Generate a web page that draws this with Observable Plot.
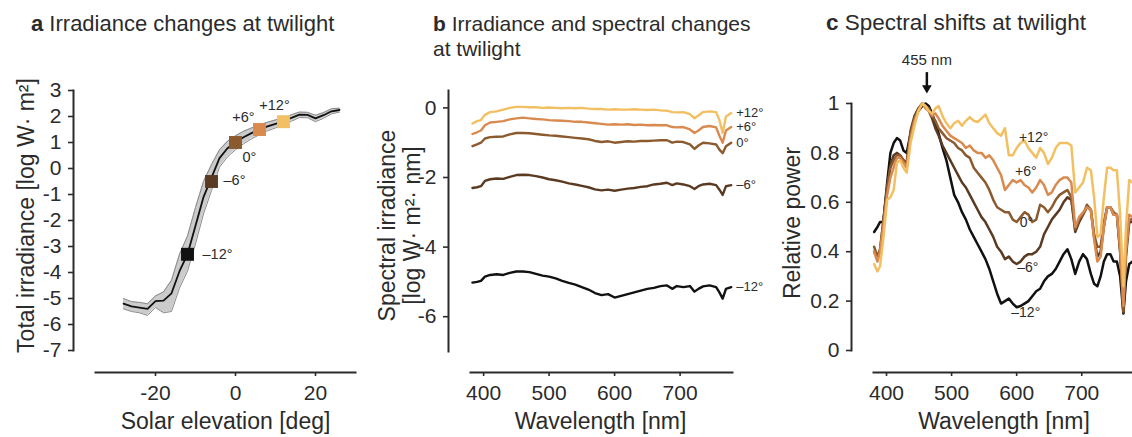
<!DOCTYPE html>
<html><head><meta charset="utf-8">
<script src="https://cdn.jsdelivr.net/npm/d3@7"></script>
<script src="https://cdn.jsdelivr.net/npm/@observablehq/plot@0.6"></script>
<style>
body{margin:0;background:#fff;}
#wrap{position:relative;width:1132px;height:437px;overflow:hidden;font-family:"Liberation Sans",Arial,Helvetica,sans-serif;color:#2b2b2b;}
#wrap svg{position:absolute;left:0;top:0;}
.title{position:absolute;font-size:22px;line-height:25px;white-space:nowrap;}
</style></head><body>
<div id="wrap">
<div class="title" style="left:31px;top:11px"><b>a</b> Irradiance changes at twilight</div>
<div class="title" style="left:433px;top:11px;font-size:21px"><b>b</b> Irradiance and spectral changes<br>at twilight</div>
<div class="title" style="left:826px;top:10px;font-size:22.5px"><b>c</b> Spectral shifts at twilight</div>
</div>
<script>
// ---------- shared series ----------
const seriesLabels = ["+12°", "+6°", "0°", "\u20136°", "\u201312°"];
const seriesColors = ["#f2c063", "#d98a4f", "#8b5a2e", "#5b3a22", "#111111"];

// ---------- panel a ----------
const elevation = [-28,-26,-24,-22,-20,-18,-16,-14,-12,-10,-8,-6,-4,-2,0,2,4,6,8,10,12,14,16,18,20,22,24,26];
const irrMean  = [-5.2,-5.3,-5.35,-5.4,-5.1,-5.08,-4.8,-3.95,-3.3,-2.2,-1.1,-0.35,0.4,0.78,1.0,1.2,1.36,1.5,1.62,1.72,1.8,1.95,2.07,2.06,1.93,2.05,2.2,2.25];
const irrUpper = [-5.0,-5.12,-5.15,-5.2,-4.9,-4.75,-4.3,-3.3,-2.6,-1.5,-0.5,0.15,0.72,1.05,1.26,1.43,1.56,1.68,1.78,1.87,1.93,2.07,2.17,2.16,2.05,2.15,2.3,2.32];
const irrLower = [-5.4,-5.5,-5.55,-5.65,-5.35,-5.55,-5.5,-4.6,-3.95,-2.9,-1.75,-0.85,0.05,0.45,0.72,0.95,1.14,1.3,1.45,1.56,1.66,1.82,1.96,1.95,1.8,1.93,2.1,2.17];
const markerElev  = [-12, -6, 0, 6, 12];
const markerIrr   = [-3.3, -0.5, 1.0, 1.5, 1.8];
const markerLabel = ["\u201312°", "\u20136°", "0°", "+6°", "+12°"];
const aTicksY = [3,2,1,0,-1,-2,-3,-4,-5,-6,-7];
const aTicksX = [-20, 0, 20];

// ---------- panel b ----------
const wlB = [383,390,396,402,410,420,430,440,450,460,470,480,490,500,510,520,530,540,550,560,570,580,590,600,610,620,630,640,650,660,670,680,688,695,705,715,722,728,735,745,755,760,765,770,778];
const bPlus12 = [-0.45,-0.38,-0.35,-0.2,-0.12,-0.1,-0.05,0.0,0.03,0.03,0.02,0.02,0.0,0.01,0.0,-0.01,0.0,-0.01,0.0,-0.02,-0.03,-0.03,-0.05,-0.04,-0.05,-0.05,-0.04,-0.05,-0.06,-0.05,-0.07,-0.08,-0.12,-0.13,-0.12,-0.18,-0.3,-0.22,-0.12,-0.1,-0.12,-0.35,-0.72,-0.25,-0.15];
const bPlus6  = [-0.75,-0.7,-0.65,-0.5,-0.42,-0.4,-0.38,-0.33,-0.3,-0.28,-0.3,-0.32,-0.33,-0.35,-0.36,-0.37,-0.38,-0.4,-0.4,-0.42,-0.44,-0.46,-0.48,-0.47,-0.48,-0.47,-0.49,-0.48,-0.5,-0.49,-0.5,-0.5,-0.55,-0.56,-0.55,-0.62,-0.72,-0.65,-0.55,-0.52,-0.56,-0.8,-1.0,-0.65,-0.55];
const bZero   = [-1.1,-1.05,-1.0,-0.88,-0.84,-0.83,-0.82,-0.76,-0.72,-0.72,-0.73,-0.75,-0.77,-0.79,-0.8,-0.82,-0.84,-0.86,-0.88,-0.9,-0.95,-0.98,-0.96,-1.0,-0.98,-0.96,-0.97,-0.95,-0.95,-0.94,-0.93,-0.93,-1.0,-0.97,-0.98,-1.05,-1.18,-1.08,-1.0,-1.02,-1.05,-1.2,-1.3,-1.1,-1.0];
const bMinus6 = [-2.3,-2.28,-2.25,-2.1,-2.05,-2.03,-2.04,-1.98,-1.93,-1.92,-1.93,-1.96,-2.0,-2.05,-2.08,-2.12,-2.17,-2.2,-2.24,-2.28,-2.34,-2.37,-2.35,-2.38,-2.35,-2.32,-2.3,-2.27,-2.25,-2.2,-2.18,-2.15,-2.22,-2.17,-2.2,-2.25,-2.33,-2.25,-2.2,-2.18,-2.22,-2.35,-2.5,-2.25,-2.22];
const bMinus12= [-5.02,-5.0,-4.97,-4.85,-4.8,-4.78,-4.8,-4.74,-4.7,-4.7,-4.72,-4.77,-4.82,-4.85,-4.9,-4.97,-5.03,-5.08,-5.15,-5.22,-5.32,-5.38,-5.35,-5.45,-5.4,-5.35,-5.3,-5.25,-5.2,-5.17,-5.12,-5.1,-5.2,-5.12,-5.15,-5.12,-5.28,-5.2,-5.13,-5.1,-5.15,-5.3,-5.48,-5.2,-5.15];
const bTicksY = [0, -2, -4, -6];
const bTicksX = [400, 500, 600, 700];

// ---------- panel c ----------
const wlC = [381,386,390,395,401,406,411,416,421,426,431,437,443,449,455,460,465,470,475,480,486,492,498,504,510,516,522,528,534,540,546,552,558,564,570,576,582,588,594,600,606,612,618,624,630,636,642,648,654,660,666,672,678,684,690,696,702,708,714,719,724,729,734,739,744,749,754,759,764,768,773,778];
const cPlus12 = [0.35,0.32,0.34,0.45,0.61,0.62,0.65,0.76,0.77,0.74,0.72,0.84,0.91,0.97,1.0,0.99,0.97,0.96,0.98,0.99,0.95,0.92,0.90,0.92,0.93,0.91,0.93,0.945,0.93,0.925,0.94,0.955,0.92,0.90,0.88,0.87,0.90,0.79,0.79,0.82,0.84,0.85,0.82,0.80,0.78,0.82,0.80,0.755,0.78,0.82,0.84,0.84,0.84,0.83,0.64,0.66,0.68,0.74,0.73,0.62,0.46,0.47,0.62,0.74,0.74,0.73,0.73,0.55,0.26,0.50,0.69,0.68];
const cPlus6  = [0.40,0.36,0.40,0.50,0.63,0.70,0.74,0.78,0.78,0.76,0.74,0.86,0.93,0.97,1.0,0.98,0.97,0.95,0.96,0.94,0.91,0.89,0.87,0.86,0.85,0.84,0.82,0.83,0.81,0.80,0.80,0.78,0.79,0.77,0.74,0.71,0.65,0.67,0.69,0.68,0.69,0.67,0.66,0.64,0.66,0.69,0.67,0.63,0.64,0.67,0.69,0.70,0.70,0.68,0.50,0.54,0.56,0.58,0.57,0.45,0.36,0.38,0.50,0.58,0.58,0.55,0.55,0.42,0.18,0.40,0.55,0.54];
const cZero   = [0.42,0.38,0.41,0.52,0.66,0.74,0.77,0.79,0.79,0.77,0.76,0.88,0.94,0.98,1.0,0.99,0.98,0.95,0.93,0.90,0.88,0.86,0.85,0.84,0.82,0.81,0.79,0.78,0.74,0.72,0.70,0.68,0.65,0.61,0.58,0.57,0.56,0.56,0.53,0.52,0.54,0.56,0.55,0.52,0.53,0.59,0.58,0.56,0.58,0.61,0.63,0.64,0.65,0.62,0.49,0.53,0.55,0.59,0.57,0.47,0.42,0.42,0.52,0.58,0.58,0.56,0.55,0.40,0.16,0.40,0.53,0.53];
const cMinus6 = [0.40,0.37,0.40,0.52,0.66,0.75,0.79,0.80,0.79,0.77,0.76,0.89,0.95,0.98,1.0,0.99,0.97,0.94,0.90,0.87,0.83,0.80,0.77,0.74,0.71,0.68,0.66,0.63,0.60,0.57,0.54,0.52,0.49,0.46,0.42,0.40,0.37,0.38,0.36,0.35,0.36,0.38,0.39,0.39,0.40,0.42,0.47,0.50,0.53,0.55,0.57,0.60,0.62,0.61,0.48,0.52,0.55,0.58,0.57,0.46,0.38,0.40,0.50,0.58,0.58,0.55,0.55,0.40,0.15,0.38,0.52,0.52];
const cMinus12= [0.48,0.50,0.52,0.52,0.68,0.80,0.84,0.86,0.85,0.81,0.80,0.88,0.93,0.97,0.99,1.0,0.99,0.96,0.92,0.88,0.82,0.77,0.70,0.63,0.60,0.56,0.53,0.49,0.46,0.43,0.40,0.37,0.33,0.28,0.23,0.19,0.20,0.21,0.19,0.175,0.18,0.19,0.20,0.22,0.24,0.25,0.28,0.30,0.31,0.33,0.36,0.39,0.41,0.37,0.31,0.36,0.39,0.37,0.31,0.27,0.26,0.30,0.36,0.39,0.39,0.36,0.36,0.30,0.15,0.28,0.35,0.36];
const cLabelWl  = [626, 614, 615, 617, 614];
const cLabelVal = [0.862, 0.725, 0.518, 0.334, 0.152];
const peakLabel = "455 nm";
const peakArrowWl = 462;
const cTicksY = [0, 0.2, 0.4, 0.6, 0.8, 1];
const cTicksX = [400, 500, 600, 700];

// ---------- build ----------
const W = 1132, H = 437;
const ink = "#2b2b2b";
const font = "'Liberation Sans', Arial, Helvetica, sans-serif";
const baseStyle = {background: "transparent", fontFamily: font, fontSize: "21px", color: ink, overflow: "visible"};
const color = {domain: seriesLabels, range: seriesColors};
const fmt = d => String(d);
const wrap = document.getElementById("wrap");
const xTitle = (t, dx) => Plot.text([t], {frameAnchor: "bottom", textAnchor: "middle", lineAnchor: "middle", dx, dy: 49, fontSize: 23});
const yTitle = (t, dx, dy) => Plot.text([t], {frameAnchor: "left", textAnchor: "middle", lineAnchor: "middle", rotate: -90, dx, dy, lineHeight: 1.1, fontSize: 23});

// panel a
const aBand = elevation.map((e, i) => ({e, m: irrMean[i], lo: irrLower[i], hi: irrUpper[i]}));
const aMarkers = markerElev.map((e, i) => ({e, v: markerIrr[i], k: markerLabel[i]}));
const aLabelOpts = {
  "\u201312°": {dx: 15, dy: 0, textAnchor: "start"},
  "\u20136°": {dx: 12, dy: -1, textAnchor: "start"},
  "0°": {dx: 7, dy: 15, textAnchor: "start"},
  "+6°": {dx: -16, dy: -12, textAnchor: "middle"},
  "+12°": {dx: -9, dy: -16, textAnchor: "middle"}
};
const plotA = Plot.plot({
  width: W, height: H,
  marginLeft: 73, marginTop: 90, marginBottom: 65, marginRight: W - 355,
  x: {domain: [-35, 30], insetLeft: 22},
  y: {domain: [-7, 3], insetBottom: 22},
  color,
  style: baseStyle,
  marks: [
    Plot.frame({anchor: "left", insetBottom: 22, stroke: ink, strokeWidth: 2}),
    Plot.frame({anchor: "bottom", insetLeft: 22, stroke: ink, strokeWidth: 2}),
    Plot.axisY(aTicksY, {tickSize: 5, tickPadding: 7, tickFormat: fmt, label: null, strokeWidth: 1.6}),
    Plot.axisX(aTicksX, {tickSize: 4, tickPadding: 9, tickFormat: fmt, label: null, strokeWidth: 1.6}),
    Plot.areaY(aBand, {x: "e", y1: "lo", y2: "hi", fill: "#cbcbcb"}),
    Plot.lineY(aBand, {x: "e", y: "hi", stroke: "#8a8a8a", strokeWidth: 1}),
    Plot.lineY(aBand, {x: "e", y: "lo", stroke: "#8a8a8a", strokeWidth: 1}),
    Plot.lineY(aBand, {x: "e", y: "m", stroke: "#111", strokeWidth: 1.8}),
    Plot.dot(aMarkers, {x: "e", y: "v", symbol: "square", r: 7.3, fill: "k"}),
    ...aMarkers.map(d => Plot.text([d], {x: "e", y: "v", text: "k", fontSize: 14.5, ...aLabelOpts[d.k]})),
    xTitle("Solar elevation [deg]", 11),
    yTitle("Total irradiance [log W\u00b7 m\u00b2]", -48, -16)
  ]
});

// panel b
const bSeries = [bPlus12, bPlus6, bZero, bMinus6, bMinus12];
const bRows = seriesLabels.flatMap((k, s) => wlB.map((w, i) => ({k, w, v: bSeries[s][i]})));
const plotB = Plot.plot({
  width: W, height: H,
  marginLeft: 448, marginTop: 90, marginBottom: 65, marginRight: W - 732,
  x: {domain: [380, 780], insetLeft: 22},
  y: {domain: [-7, 0.5], insetBottom: 21},
  color,
  style: baseStyle,
  marks: [
    Plot.frame({anchor: "left", insetBottom: 21, stroke: ink, strokeWidth: 2}),
    Plot.frame({anchor: "bottom", insetLeft: 22, stroke: ink, strokeWidth: 2}),
    Plot.axisY(bTicksY, {tickSize: 5, tickPadding: 7, tickFormat: fmt, label: null, strokeWidth: 1.6}),
    Plot.axisX(bTicksX, {tickSize: 4, tickPadding: 9, tickFormat: fmt, label: null, strokeWidth: 1.6}),
    Plot.lineY(bRows, {x: "w", y: "v", z: "k", stroke: "k", strokeWidth: 2.4}),
    Plot.text(bRows, Plot.selectLast({x: "w", y: "v", z: "k", text: "k", dx: 5, textAnchor: "start", fontSize: 13})),
    xTitle("Wavelength [nm]", 10),
    yTitle("Spectral irradiance\n[log W\u00b7 m\u00b2\u00b7 nm]", -49, -6)
  ]
});

// panel c
const cSeries = [cPlus12, cPlus6, cZero, cMinus6, cMinus12];
const cRows = seriesLabels.map((k, s) => ({k, s})).reverse()
  .flatMap(({k, s}) => wlC.map((w, i) => ({k, w, v: cSeries[s][i]})));
const cLabels = seriesLabels.map((k, i) => ({k, w: cLabelWl[i], v: cLabelVal[i]}));
const plotC = Plot.plot({
  width: W, height: H,
  marginLeft: 851, marginTop: 103, marginBottom: 65, marginRight: 0,
  x: {domain: [380, 778], insetLeft: 22},
  y: {domain: [0, 1], insetBottom: 22},
  color,
  style: baseStyle,
  marks: [
    Plot.frame({anchor: "left", insetBottom: 22, stroke: ink, strokeWidth: 2}),
    Plot.frame({anchor: "bottom", insetLeft: 22, stroke: ink, strokeWidth: 2}),
    Plot.axisY(cTicksY, {tickSize: 5, tickPadding: 7, tickFormat: fmt, label: null, strokeWidth: 1.6}),
    Plot.axisX(cTicksX, {tickSize: 4, tickPadding: 9, tickFormat: fmt, label: null, strokeWidth: 1.6}),
    Plot.lineY(cRows, {x: "w", y: "v", z: "k", stroke: "k", strokeWidth: 2.5}),
    Plot.text(cLabels, {x: "w", y: "v", text: "k", fontSize: 14}),
    Plot.text([{w: peakArrowWl, v: 1.174, t: peakLabel}], {x: "w", y: "v", text: "t", fontSize: 15}),
    Plot.ruleX([{w: peakArrowWl, y1: 1.125, y2: 1.066}], {x: "w", y1: "y1", y2: "y2", stroke: "#111", strokeWidth: 2.5}),
    Plot.dot([{w: peakArrowWl, v: 1.063}], {x: "w", y: "v", symbol: "triangle", rotate: 180, r: 3.6, fill: "#111"}),
    xTitle("Wavelength [nm]", 12),
    yTitle("Relative power", -60, -15)
  ]
});

wrap.append(plotA, plotB, plotC);
</script>
</body></html>
